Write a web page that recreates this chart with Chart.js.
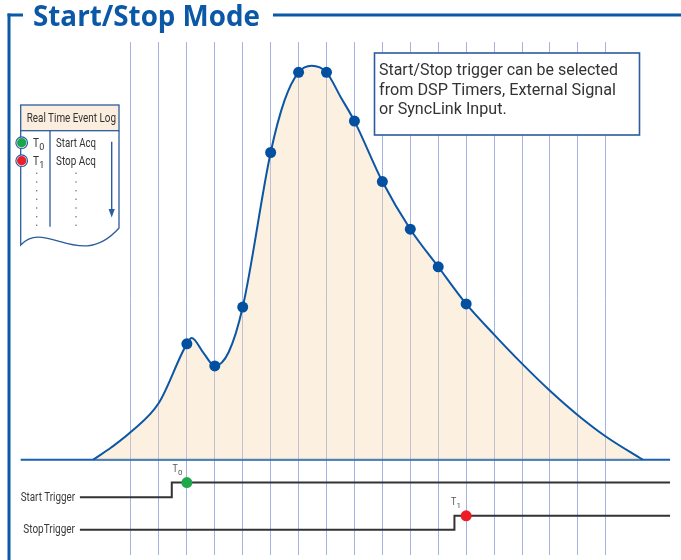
<!DOCTYPE html>
<html><head><meta charset="utf-8">
<script src="https://cdn.jsdelivr.net/npm/chart.js@4.4.1/dist/chart.umd.min.js"></script>
<style>
html,body{margin:0;padding:0;background:#fff;}
#wrap{position:relative;width:681px;height:560px;overflow:hidden;background:#fff;}
#c{position:absolute;left:0;top:0;width:681px;height:560px;}
#ov{position:absolute;left:0;top:0;pointer-events:none;}
.cn{font-family:'Liberation Sans Narrow','Roboto','Liberation Sans',sans-serif;}
</style></head><body>
<div id="wrap">
<canvas id="c" width="681" height="560"></canvas>
<svg id="ov" width="681" height="560" viewBox="0 0 681 560" xmlns="http://www.w3.org/2000/svg">
  <!-- frame and title -->
  <rect x="7.5" y="13.5" width="3" height="547" fill="#0b58a6"/>
  <rect x="7.5" y="13.5" width="15.5" height="3" fill="#0b58a6"/>
  <rect x="273" y="13.5" width="408" height="3" fill="#0b58a6"/>
  <text x="33" y="25.5" font-family="'Open Sans','Noto Sans',sans-serif" font-weight="700" font-size="29" fill="#0b58a6" textLength="227" lengthAdjust="spacingAndGlyphs">Start/Stop Mode</text>

  <!-- annotation box -->
  <rect x="374.5" y="53" width="265" height="82" fill="#fff" stroke="#2b5c9e" stroke-width="1.6"/>
  <g class="cn" font-size="17" fill="#333">
    <text x="379" y="75.3" textLength="239" lengthAdjust="spacingAndGlyphs">Start/Stop trigger can be selected</text>
    <text x="379" y="95" textLength="237" lengthAdjust="spacingAndGlyphs">from DSP Timers, External Signal</text>
    <text x="379" y="114.3" textLength="127.7" lengthAdjust="spacingAndGlyphs">or SyncLink Input.</text>
  </g>

  <!-- real time event log -->
  <path d="M20.7,130.7 L20.7,245 C45,218 80,272 119,228 L119,130.7" fill="#fff" stroke="#2b5c9e" stroke-width="1.3"/>
  <rect x="20.7" y="105" width="98.3" height="25.7" fill="#fbeedf" stroke="#2b5c9e" stroke-width="1.3"/>
  <line x1="50" y1="130.7" x2="50" y2="226.7" stroke="#2b5c9e" stroke-width="1.3"/>
  <g class="cn" fill="#333">
    <text x="26.7" y="122.3" font-size="12.4" textLength="89.3" lengthAdjust="spacingAndGlyphs">Real Time Event Log</text>
    <text x="33" y="147.3" font-size="13" textLength="6" lengthAdjust="spacingAndGlyphs">T</text>
    <text x="39.3" y="150" font-size="9">0</text>
    <text x="56" y="147.3" font-size="13" textLength="40" lengthAdjust="spacingAndGlyphs">Start Acq</text>
    <text x="33" y="165.3" font-size="13" textLength="6" lengthAdjust="spacingAndGlyphs">T</text>
    <text x="39.3" y="168" font-size="9">1</text>
    <text x="56" y="165.3" font-size="13" textLength="40" lengthAdjust="spacingAndGlyphs">Stop Acq</text>
  </g>
  <circle cx="21.7" cy="142.7" r="5.8" fill="#fff" stroke="#2b5c9e" stroke-width="1.2"/>
  <circle cx="21.7" cy="142.7" r="4.7" fill="#1aa64a"/>
  <circle cx="21.7" cy="160.7" r="5.8" fill="#fff" stroke="#2b5c9e" stroke-width="1.2"/>
  <circle cx="21.7" cy="160.7" r="4.7" fill="#e8202a"/>
  <g fill="#666">
    <circle cx="36.7" cy="173.3" r="0.75"/><circle cx="36.7" cy="182" r="0.75"/><circle cx="36.7" cy="190.7" r="0.75"/><circle cx="36.7" cy="199.3" r="0.75"/><circle cx="36.7" cy="208" r="0.75"/><circle cx="36.7" cy="216.7" r="0.75"/><circle cx="36.7" cy="225.3" r="0.75"/>
    <circle cx="76" cy="173.3" r="0.75"/><circle cx="76" cy="182" r="0.75"/><circle cx="76" cy="190.7" r="0.75"/><circle cx="76" cy="199.3" r="0.75"/><circle cx="76" cy="208" r="0.75"/><circle cx="76" cy="216.7" r="0.75"/><circle cx="76" cy="225.3" r="0.75"/>
  </g>
  <line x1="111.7" y1="141.7" x2="111.7" y2="211" stroke="#2b5c9e" stroke-width="1.4"/>
  <polygon points="108.6,209 114.8,209 111.7,217.5" fill="#2b5c9e"/>

  <!-- trigger labels -->
  <g class="cn" fill="#3a3a3a">
    <text x="20.7" y="501" font-size="12" textLength="54.3" lengthAdjust="spacingAndGlyphs">Start Trigger</text>
    <text x="23.3" y="533.3" font-size="12" textLength="51.7" lengthAdjust="spacingAndGlyphs">StopTrigger</text>
    <text x="172.5" y="471.7" font-size="10.5" fill="#555" textLength="5.3" lengthAdjust="spacingAndGlyphs">T</text>
    <text x="178" y="474.5" font-size="8" fill="#555">0</text>
    <text x="451" y="505" font-size="10.5" fill="#555" textLength="5.3" lengthAdjust="spacingAndGlyphs">T</text>
    <text x="456.5" y="508" font-size="8" fill="#555">1</text>
  </g>
</svg>
</div>
<script>
// ---- data (x in grid-line units, y in signal units; baseline = 0) ----
const gridLines = [0,1,2,3,4,5,6,7,8,9,10,11,12,13,14,15,16,17];
const curveX = [-1.35,-0.7,0,1,2,2.17,2.6,3,3.5,4,5,5.5,6,6.47,7,7.5,8,9,10,11,12,13,14,15,16,17,18.32];
const curveY = [0,3.2,7.2,14.7,29.9,31.4,27.5,24.2,27.8,39.4,79.3,92.8,100,101.7,100,93.7,87.4,71.8,59.5,49.8,40.2,32.3,24.8,17.8,11.5,6.0,0];
const markerX = [2,3,4,5,6,7,8,9,10,11,12];
const markerY = [29.9,24.2,39.4,79.3,100,100,87.4,71.8,59.5,49.8,40.2];
const baselineX = [-3.95,19.3];
const baselineY = [0,0];
const startTrigX = [-1.83,1.46,1.46,19.3];
const startTrigY = [-9.7,-9.7,-5.9,-5.9];
const stopTrigX = [-1.83,11.58,11.58,19.3];
const stopTrigY = [-18.1,-18.1,-14.5,-14.5];
const t0 = [2,-5.9];
const t1 = [12,-14.5];

const xy = (xs, ys) => xs.map((x,i)=>({x:x,y:ys[i]}));

new Chart(document.getElementById('c'), {
  type:'line',
  data:{datasets:[
    {data:[{x:t0[0],y:t0[1]}], showLine:false, pointRadius:5.5, pointBackgroundColor:'#1fa84a', pointBorderWidth:0},
    {data:[{x:t1[0],y:t1[1]}], showLine:false, pointRadius:5.5, pointBackgroundColor:'#ee1c25', pointBorderWidth:0},
    {data:xy(markerX,markerY), showLine:false, pointRadius:5.5, pointBackgroundColor:'#0450a0', pointBorderWidth:0},
    {data:xy(curveX,curveY), borderColor:'#0c56a6', borderWidth:2, pointRadius:0, cubicInterpolationMode:'monotone', fill:'origin', backgroundColor:'rgba(248,214,170,0.36)'},
    {data:xy(startTrigX,startTrigY), borderColor:'#333', borderWidth:2, pointRadius:0, tension:0, fill:false},
    {data:xy(stopTrigX,stopTrigY), borderColor:'#333', borderWidth:2, pointRadius:0, tension:0, fill:false},
    {data:xy(baselineX,baselineY), borderColor:'#1a5fb0', borderWidth:2, pointRadius:0, tension:0, fill:false}
  ]},
  options:{
    responsive:false, animation:false, events:[],
    layout:{autoPadding:false, padding:{top:42,bottom:5,left:0,right:0}},
    plugins:{legend:{display:false},tooltip:{enabled:false}},
    scales:{
      x:{type:'linear', min:-131/27.93, max:(681-131)/27.93,
         afterBuildTicks:(s)=>{ s.ticks = gridLines.map(v=>({value:v})); },
         ticks:{display:false}, border:{display:false},
         grid:{drawTicks:false, color:'#a6b3e2', lineWidth:1}},
      y:{type:'linear', min:-(555-459.7)/3.874, max:(459.7-42)/3.874, display:false}
    }
  }
});
</script>
</body></html>
